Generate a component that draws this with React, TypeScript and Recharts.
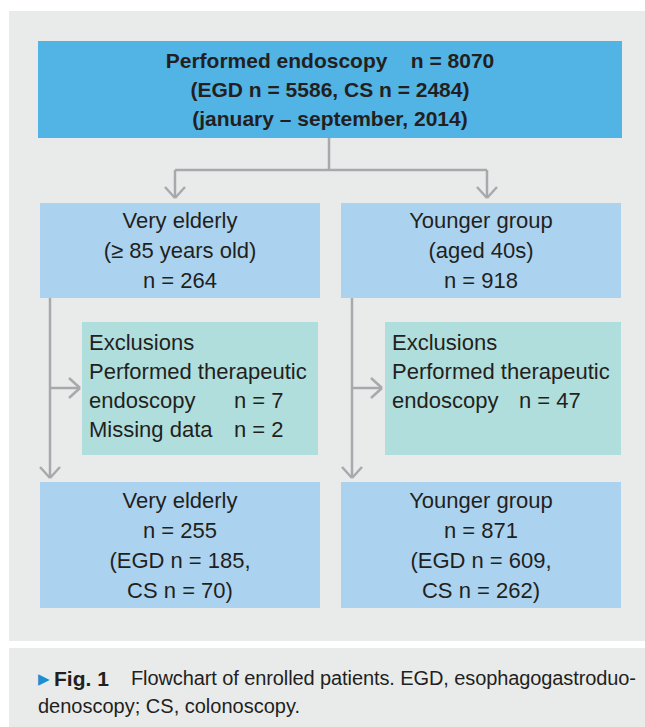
import React from "react"
import { ComposedChart, ReferenceArea, ReferenceLine, XAxis, YAxis } from "recharts"

// counts
const totalCounts = [8070, 5586, 2484] // all, EGD, CS
const studyPeriod = "january – september, 2014"
const groupNames = ["Very elderly", "Younger group"]
const groupCriteria = ["(≥ 85 years old)", "(aged 40s)"]
const groupN = [264, 918]
const therapeuticN = [7, 47]
const missingN: (number | null)[] = [2, null]
const enrolledN = [255, 871]
const enrolledEgd = [185, 609]
const enrolledCs = [70, 262]

const W = 645
const H = 727
const FONT = "'Liberation Sans', Arial, sans-serif"
const INK = "#231f20"
const LINE = "#a7a9ac"

// layout (pixels of the figure)
const colX = [
  [40, 320],
  [341, 621],
]
const exclX = [
  [82, 318],
  [385, 621],
]
const tabOffset = [152, 134]
const stemX = [50, 352]
const splitX = [175, 487]

type Line = { text: string; tab?: string }

function BoxText(props: any) {
  const { viewBox, lines, align = "middle", weight = 400, padTop, tab = 0, size = 22, step = 29.5 } = props
  if (!viewBox) return null
  const { x, y, width, height } = viewBox
  const first = padTop != null ? y + padTop : y + height / 2 - ((lines.length - 1) * step) / 2
  const tx = align === "middle" ? x + width / 2 : x + 7
  return (
    <text fontFamily={FONT} fontSize={size} fontWeight={weight} fill={INK} textAnchor={align}>
      {(lines as Line[]).map((l, i) => (
        <React.Fragment key={i}>
          <tspan x={tx} y={first + i * step} dominantBaseline="central" xmlSpace="preserve">
            {l.text}
          </tspan>
          {l.tab && (
            <tspan x={x + tab} y={first + i * step} dominantBaseline="central">
              {l.tab}
            </tspan>
          )}
        </React.Fragment>
      ))}
    </text>
  )
}

function Caption(props: any) {
  const { viewBox } = props
  if (!viewBox) return null
  const { x, y } = viewBox
  return (
    <g fontFamily={FONT} fontSize={20} fill={INK}>
      <text x={x + 29} y={y + 30} dominantBaseline="central" fill="#1b8fd2" fontSize={15}>
        ▶
      </text>
      <text x={x + 45} y={y + 30} dominantBaseline="central" fontWeight={700} fontSize={21}>
        Fig. 1
      </text>
      <text x={x + 122} y={y + 30} dominantBaseline="central" textLength={505} lengthAdjust="spacing">
        Flowchart of enrolled patients. EGD, esophagogastroduo-
      </text>
      <text x={x + 29} y={y + 58} dominantBaseline="central">
        denoscopy; CS, colonoscopy.
      </text>
    </g>
  )
}

function seg(x1: number, y1: number, x2: number, y2: number, key: string) {
  return (
    <ReferenceLine
      key={key}
      segment={[
        { x: x1, y: y1 },
        { x: x2, y: y2 },
      ]}
      stroke={LINE}
      strokeWidth={2.5}
      ifOverflow="visible"
    />
  )
}

function arrowDown(x: number, y1: number, tip: number, key: string) {
  return [
    seg(x, y1, x, tip, key + "s"),
    seg(x - 10, tip - 11, x, tip, key + "a"),
    seg(x + 10, tip - 11, x, tip, key + "b"),
  ]
}

function arrowRight(x1: number, tip: number, y: number, key: string) {
  return [
    seg(x1, y, tip, y, key + "s"),
    seg(tip - 11, y - 10, tip, y, key + "a"),
    seg(tip - 11, y + 10, tip, y, key + "b"),
  ]
}

export default function App() {
  const topLines: Line[] = [
    { text: `Performed endoscopy    n = ${totalCounts[0]}` },
    { text: `(EGD n = ${totalCounts[1]}, CS n = ${totalCounts[2]})` },
    { text: `(${studyPeriod})` },
  ]

  return (
    <div style={{ position: "absolute", left: 0, top: 0, width: W, height: H, background: "#fff" }}>
      <ComposedChart width={W} height={H} data={[]} margin={{ top: 0, right: 0, bottom: 0, left: 0 }}>
        <XAxis type="number" dataKey="x" domain={[0, W]} allowDataOverflow hide />
        <YAxis type="number" dataKey="y" domain={[0, H]} allowDataOverflow reversed hide />

        <ReferenceArea x1={9} x2={W} y1={11} y2={641} fill="#e9ebeb" fillOpacity={1} stroke="none" />
        <ReferenceArea
          x1={9}
          x2={W}
          y1={648}
          y2={H}
          fill="#e9ebeb"
          fillOpacity={1}
          stroke="none"
          label={<Caption />}
        />

        <ReferenceArea
          x1={38}
          x2={622}
          y1={41}
          y2={138}
          fill="#52b3e5"
          fillOpacity={1}
          stroke="none"
          label={<BoxText lines={topLines} weight={700} size={21} step={29} />}
        />

        {[0, 1].map((i) => (
          <ReferenceArea
            key={"g" + i}
            x1={colX[i][0]}
            x2={colX[i][1]}
            y1={203}
            y2={298}
            fill="#abd3ef"
            fillOpacity={1}
            stroke="none"
            label={
              <BoxText
                lines={[{ text: groupNames[i] }, { text: groupCriteria[i] }, { text: `n = ${groupN[i]}` }]}
                step={30}
              />
            }
          />
        ))}

        {[0, 1].map((i) => {
          const lines: Line[] = [
            { text: "Exclusions" },
            { text: "Performed therapeutic" },
            { text: "endoscopy", tab: `n = ${therapeuticN[i]}` },
          ]
          if (missingN[i] != null) lines.push({ text: "Missing data", tab: `n = ${missingN[i]}` })
          return (
            <ReferenceArea
              key={"e" + i}
              x1={exclX[i][0]}
              x2={exclX[i][1]}
              y1={322}
              y2={455}
              fill="#b0dedd"
              fillOpacity={1}
              stroke="none"
              label={<BoxText lines={lines} align="start" padTop={20} tab={tabOffset[i]} step={29} />}
            />
          )
        })}

        {[0, 1].map((i) => (
          <ReferenceArea
            key={"f" + i}
            x1={colX[i][0]}
            x2={colX[i][1]}
            y1={482}
            y2={608}
            fill="#abd3ef"
            fillOpacity={1}
            stroke="none"
            label={
              <BoxText
                lines={[
                  { text: groupNames[i] },
                  { text: `n = ${enrolledN[i]}` },
                  { text: `(EGD n = ${enrolledEgd[i]},` },
                  { text: `CS n = ${enrolledCs[i]})` },
                ]}
                step={30}
              />
            }
          />
        ))}

        {seg(329, 138, 329, 170, "stem")}
        {seg(splitX[0], 170, splitX[1], 170, "bar")}
        {arrowDown(splitX[0], 170, 198, "dl")}
        {arrowDown(splitX[1], 170, 198, "dr")}
        {arrowDown(stemX[0], 298, 478, "sl")}
        {arrowDown(stemX[1], 298, 478, "sr")}
        {arrowRight(stemX[0], 80, 388, "el")}
        {arrowRight(stemX[1], 382, 388, "er")}
      </ComposedChart>
    </div>
  )
}
